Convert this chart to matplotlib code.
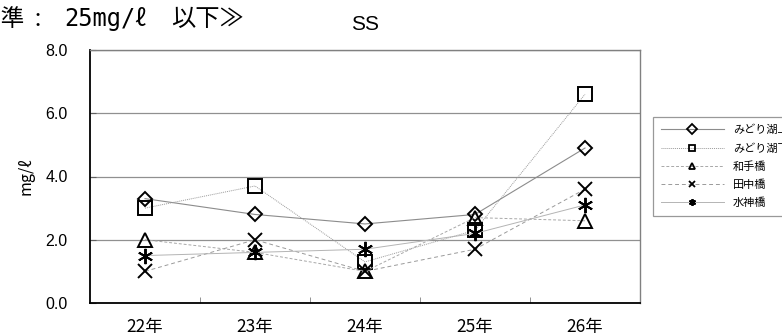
import matplotlib
matplotlib.use("Agg")
import matplotlib.pyplot as plt
from matplotlib.lines import Line2D

plt.rcParams['font.family'] = ['Noto Sans CJK JP', 'DejaVu Sans']

# Annual SS measurements (mg/ℓ) at each sampling point
years = ["22年", "23年", "24年", "25年", "26年"]
midori_kami = [3.3, 2.8, 2.5, 2.8, 4.9]
midori_shimo = [3.0, 3.7, 1.3, 2.3, 6.6]
wadebashi = [2.0, 1.6, 1.0, 2.7, 2.6]
tanakabashi = [1.0, 2.0, 1.0, 1.7, 3.6]
suijinbashi = [1.5, 1.6, 1.7, 2.2, 3.1]
yticks = [0.0, 2.0, 4.0, 6.0, 8.0]

series = [
    ("みどり湖上", midori_kami, dict(marker="D", ms=7.0, ls="-", color="#8c8c8c", lw=0.8)),
    ("みどり湖下", midori_shimo, dict(marker="s", ms=9.5, ls=(0, (1, 1)), color="#9a9a9a", lw=0.7)),
    ("和手橋", wadebashi, dict(marker="^", ms=10, ls=(0, (3, 2)), color="#a8a8a8", lw=0.7)),
    ("田中橋", tanakabashi, dict(marker="x", ms=10, ls=(0, (4, 3)), color="#9a9a9a", lw=0.7)),
    ("水神橋", suijinbashi, dict(marker=(6, 2, 0), ms=11, ls="-", color="#b4b4b4", lw=0.7)),
]

W, H = 782, 336
fig = plt.figure(figsize=(W / 100, H / 100), dpi=100)
ax = fig.add_axes([90 / W, 1 - 303 / H, 550 / W, 253 / H])

x = list(range(len(years)))
handles = []
for name, vals, st in series:
    ax.plot(x, vals, marker=st["marker"], ms=st["ms"], ls=st["ls"], color=st["color"],
            lw=st["lw"], mfc="none", mec="black", mew=1.4, zorder=3, clip_on=False)
    handles.append(Line2D([], [], marker=st["marker"], ms=5, ls=st["ls"], color=st["color"],
                          lw=st["lw"], mfc="none", mec="black", mew=1.3, label=name))

ax.set_xlim(-0.5, len(years) - 0.5)
ax.set_ylim(0, 8)
ax.set_yticks(yticks)
ax.set_yticklabels([f"{v:.1f}" for v in yticks], family="Liberation Sans", fontsize=11.5)
ax.set_xticks(x)
ax.set_xticklabels(years, fontsize=12.5)
ax.set_xticks([i + 0.5 for i in range(len(years) - 1)], minor=True)
ax.tick_params(axis="x", which="major", length=0, pad=11)
ax.tick_params(axis="x", which="minor", direction="in", length=4, color="#808080")
ax.tick_params(axis="y", direction="in", length=4, color="#606060", pad=16)

ax.grid(axis="y", color="#909090", lw=0.9)
ax.set_axisbelow(True)
for side in ("top", "right"):
    ax.spines[side].set_color("#808080")
    ax.spines[side].set_linewidth(1.0)
for side in ("left", "bottom"):
    ax.spines[side].set_color("black")
    ax.spines[side].set_linewidth(1.3)

ax.set_ylabel("mg/ℓ", fontsize=11.5, labelpad=8)

fig.text(351 / W, 1 - 24 / H, "SS", fontsize=15, va="center", ha="left",
         family="Liberation Sans")

# Standard value line, drawn in three runs to keep its wide spacing
top_y = 1 - 19 / H
fig.text(41 / W, top_y, "基準  :", fontsize=17, va="center", ha="right")
fig.text(64 / W, top_y, "25mg/ℓ", fontsize=17, va="center", ha="left",
         family=["DejaVu Sans Mono", "Noto Sans CJK JP"])
fig.text(171 / W, top_y, "以下≫", fontsize=17.5, va="center", ha="left")

leg = fig.legend(handles=handles, loc="upper left", bbox_to_anchor=(653 / W, 1 - 117 / H),
                 fontsize=8, frameon=True, fancybox=False, handlelength=5.7,
                 handletextpad=0.8, labelspacing=0.68, borderpad=0.7, borderaxespad=0)
leg.get_frame().set_edgecolor("#808080")
leg.get_frame().set_linewidth(0.9)

fig.savefig("out.png", dpi=100)
